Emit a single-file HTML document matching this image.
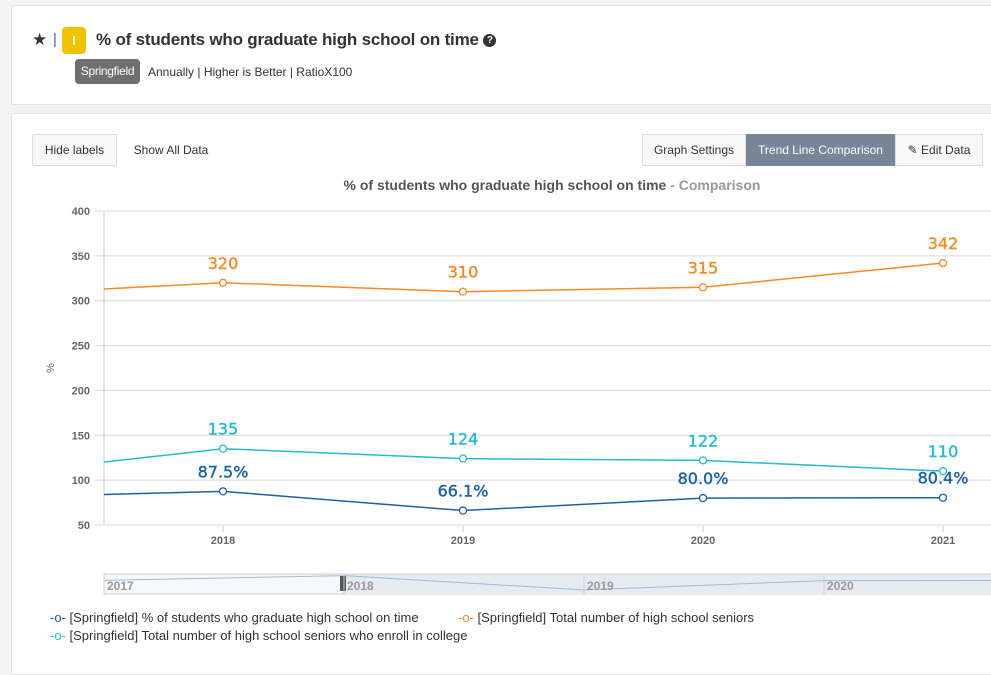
<!DOCTYPE html>
<html><head><meta charset="utf-8"><style>
body{margin:0;width:991px;height:660px;background:#f3f3f3;font-family:"Liberation Sans",sans-serif;overflow:hidden;position:relative}
.card{position:absolute;background:#fff;border:1px solid #e2e2e2;border-radius:3px}
.btn{position:absolute;font-size:12px;color:#333;box-sizing:border-box;display:flex;align-items:center;justify-content:center}
</style></head><body>
<div class="card" style="left:11px;top:5px;width:990px;height:98px">
  <span style="position:absolute;left:20px;top:24px;font-size:17px;color:#333">★</span>
  <span style="position:absolute;left:41px;top:25px;color:#2a6ebb;font-size:15px">|</span>
  <div style="position:absolute;left:50px;top:21px;width:24px;height:27px;background:#f0c300;border-radius:4px;color:#fff;font-size:13px;font-weight:bold;text-align:center;line-height:27px">I</div>
  <div style="position:absolute;left:84px;top:24px;font-size:17px;font-weight:bold;color:#333;letter-spacing:-0.2px">% of students who graduate high school on time <span style="display:inline-block;width:13px;height:13px;border-radius:7px;background:#333;color:#fff;font-size:10px;text-align:center;line-height:13px;vertical-align:2px">?</span></div>
  <div style="position:absolute;left:63px;top:53px;width:65px;height:25px;background:#6f6f6f;border-radius:4px;color:#fff;font-size:12px;text-align:center;line-height:25px;letter-spacing:-0.3px">Springfield</div>
  <div style="position:absolute;left:136px;top:59px;font-size:12px;color:#333">Annually | Higher is Better | RatioX100</div>
</div>
<div class="card" style="left:11px;top:113px;width:990px;height:560px"></div>
<div class="btn" style="left:32px;top:134px;width:85px;height:32px;border:1px solid #ddd;background:#f8f8f8;border-radius:2px">Hide labels</div>
<div class="btn" style="left:125px;top:134px;width:92px;height:32px">Show All Data</div>
<div class="btn" style="left:642px;top:134px;width:104px;height:32px;border:1px solid #ddd;background:#f8f8f8">Graph Settings</div>
<div class="btn" style="left:746px;top:134px;width:149px;height:32px;background:#778797;color:#fff">Trend Line Comparison</div>
<div class="btn" style="left:895px;top:134px;width:88px;height:32px;border:1px solid #ddd;background:#f8f8f8">✎ Edit Data</div>
<svg id="chart" width="991" height="660" style="position:absolute;left:0;top:0">
<text x="552" y="190" text-anchor="middle" font-size="14" font-weight="bold" fill="#555" font-family="Liberation Sans,sans-serif">% of students who graduate high school on time <tspan fill="#999">- Comparison</tspan></text>
<g id="grid"></g><g id="series"></g><g id="labels"></g>
<text transform="translate(54,368) rotate(-90)" text-anchor="middle" font-size="11" fill="#666">%</text>
<g>
<rect x="104" y="574" width="887" height="20" fill="#f7f8fa" stroke="#ccc"/>
<rect x="343" y="575" width="648" height="19" fill="#e6ebf2"/>
<path id="navline" fill="none" stroke="#9cbbe0" stroke-width="1"/>
<rect x="340" y="576" width="6" height="15" fill="#555"/>
<g id="navlabels" font-size="12" font-weight="bold" fill="#999"></g>
</g>
</svg>
<div style="position:absolute;left:50px;top:609px;font-size:13px;color:#333;line-height:18px">
 <div style="position:absolute;left:0;top:0;white-space:nowrap"><span style="color:#1a62a8">-o-</span> [Springfield] % of students who graduate high school on time</div>
 <div style="position:absolute;left:408px;top:0;white-space:nowrap"><span style="color:#f7891f">-o-</span> [Springfield] Total number of high school seniors</div>
 <div style="position:absolute;left:0;top:18px;white-space:nowrap"><span style="color:#22bcd4">-o-</span> [Springfield] Total number of high school seniors who enroll in college</div>
</div>
<script>
const years=[2017,2018,2019,2020,2021];
const gradRate=[80.5,87.5,66.1,80.0,80.4];
const gradLabels=["","87.5%","66.1%","80.0%","80.4%"];
const seniors=[306,320,310,315,342];
const enrolled=[105,135,124,122,110];
const yTicks=[50,100,150,200,250,300,350,400];
const ns="http://www.w3.org/2000/svg";
const X=y=>223+(y-2018)*240;
const Y=v=>525-(v-50)*314/350;
function mk(tag,attrs,parent){const e=document.createElementNS(ns,tag);for(const k in attrs)e.setAttribute(k,attrs[k]);parent.appendChild(e);return e;}
const grid=document.getElementById('grid');
yTicks.forEach(t=>{
 const l=mk('line',{x1:95,x2:991,y1:Y(t),y2:Y(t),stroke:'#d8d8d8'},grid);
 
 
 const tx=mk('text',{x:90,y:Y(t)+4,'text-anchor':'end','font-size':11,'font-weight':'bold',fill:'#666'},grid);
 tx.textContent=t;
 
 
});
mk('line',{x1:104,x2:104,y1:211,y2:525,stroke:'#ccc'},grid);
years.slice(1).forEach(y=>{
 mk('line',{x1:X(y),x2:X(y),y1:525,y2:532,stroke:'#ccc'},grid);
 const tx=mk('text',{x:X(y),y:544,'text-anchor':'middle','font-size':11,'font-weight':'bold',fill:'#666'},grid);
 tx.textContent=y;
 
 
});
const sg=document.getElementById('series'),lg=document.getElementById('labels');
function drawSeries(vals,labs,color,name){
 let d='';
 vals.forEach((v,i)=>{d+=(i?'L':'M')+X(years[i])+','+Y(v);});
 const g=mk('g',{'clip-path':'url(#pc)'},sg);
 const p=mk('path',{d:d,fill:'none',stroke:color,'stroke-width':1.5},g);
 
 
 vals.forEach((v,i)=>{
  if(i===0)return;
  const c=mk('circle',{cx:X(years[i]),cy:Y(v),r:3.5,fill:'#fff',stroke:color,'stroke-width':1.3},sg);
  
  
  const t=mk('text',{x:X(years[i]),y:Y(v)-14,'text-anchor':'middle','font-size':16,fill:color,stroke:color,'stroke-width':0.4,'font-family':'DejaVu Sans,sans-serif'},lg);
  t.textContent=labs[i];
  
  
 });
}
const svg=document.getElementById('chart');
const defs=mk('defs',{},svg);const cp=mk('clipPath',{id:'pc'},defs);mk('rect',{x:104,y:200,width:887,height:330},cp);
drawSeries(seniors,seniors.map(String),'#f7891f','total-seniors');
drawSeries(enrolled,enrolled.map(String),'#22bcd4','enroll-college');
drawSeries(gradRate,gradLabels,'#1a62a8','graduation-rate');
const NX=y=>104+(y-2017)*240;
const NY=v=>594-(v-60)*20/30;
let nd='';years.forEach((y,i)=>{nd+=(i?'L':'M')+NX(y)+','+NY(gradRate[i]);});
document.getElementById('navline').setAttribute('d',nd);
const nl=document.getElementById('navlabels');
[2017,2018,2019,2020].forEach(y=>{
 mk('line',{x1:NX(y),x2:NX(y),y1:575,y2:594,stroke:'#ccc'},nl);
 const t=mk('text',{x:NX(y)+3,y:590},nl);t.textContent=y;
 
 
});
</script>
</body></html>
